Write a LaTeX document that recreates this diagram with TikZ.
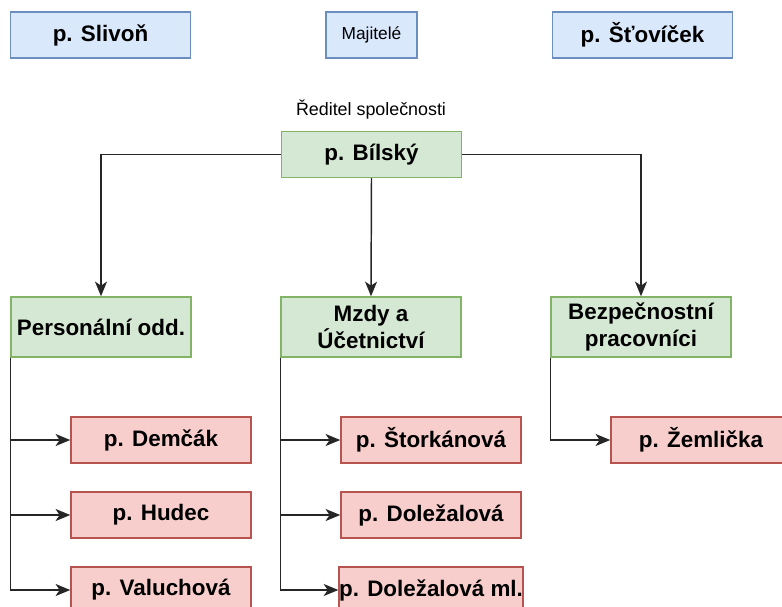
\documentclass[tikz,border=0pt]{standalone}
\usepackage{fontspec}
\setmainfont{Liberation Sans}
\usetikzlibrary{arrows.meta}
\tikzset{>={Stealth[length=11pt,width=9pt,inset=3pt]}}
\definecolor{ownfill}{HTML}{DAE8FC}
\definecolor{owndraw}{HTML}{6C8EBF}
\definecolor{depfill}{HTML}{D5E8D4}
\definecolor{depdraw}{HTML}{82B366}
\definecolor{wrkfill}{HTML}{F8CECC}
\definecolor{wrkdraw}{HTML}{B85450}
\tikzset{box/.style={inner sep=0pt,line width=1.1pt,minimum width=135pt,align=center,
    font=\fontsize{16.8}{20}\selectfont\bfseries}}
\tikzset{owner/.style={box,fill=ownfill,draw=owndraw,minimum height=34.5pt}}
\tikzset{dept/.style={box,fill=depfill,draw=depdraw,minimum height=45pt}}
\tikzset{worker/.style={box,fill=wrkfill,draw=wrkdraw,minimum height=34.5pt}}
\tikzset{link/.style={line width=1.1pt,draw=black!85}}
\begin{document}
\begin{tikzpicture}[x=0.75pt,y=-0.75pt]
                \useasboundingbox (0,0) rectangle (782,607);
                \clip (0,0) rectangle (782,607);
                % majitele
                \node[owner] (slivon) at (100.5,35) {p. Slivoň};
                \node[owner,minimum width=68pt,font=\fontsize{13}{15}\selectfont] (majitele) at (371.5,35) {Majitelé};
                \node[owner] (stovicek) at (642.5,35) {p. Šťovíček};

                % reditel
                \node[font=\fontsize{13.4}{15}\selectfont] (titul) at (371,110) {Ředitel společnosti};
                \node[worker,fill=depfill,draw=depdraw] (bilsky) at (371.5,154.5) {p. Bílský};

                % oddeleni
                \node[dept] (personal) at (101,327) {Personální odd.};
                \node[dept] (mzdy) at (371,327) {Mzdy a\\Účetnictví};
                \node[dept] (bezpec) at (641,327) {Bezpečnostní\\pracovníci};

                % zamestnanci
                \node[worker] (demcak) at (161,440) {p. Demčák};
                \node[worker] (hudec) at (161,515) {p. Hudec};
                \node[worker] (valuch) at (161,590) {p. Valuchová};
                \node[worker] (stork) at (431,440) {p. Štorkánová};
                \node[worker] (dolez) at (431,515) {p. Doležalová};
                \node[worker] (dolezml) at (431,590) {p. Doležalová ml.};
                \node[worker] (zemlic) at (701,440) {p. Žemlička};

                \draw[link,->] (bilsky.west) -| (personal.north);
                \draw[link,->] (bilsky.south) -- (mzdy.north);
                \draw[link,->] (bilsky.east) -| (bezpec.north);

                \draw[link,->] (personal.south west) |- (demcak.west);
                \draw[link,->] (personal.south west) |- (hudec.west);
                \draw[link,->] (personal.south west) |- (valuch.west);
                \draw[link,->] (mzdy.south west) |- (stork.west);
                \draw[link,->] (mzdy.south west) |- (dolez.west);
                \draw[link,->] (mzdy.south west) |- (dolezml.west);
                \draw[link,->] (bezpec.south west) |- (zemlic.west);
            \end{tikzpicture}
\end{document}
